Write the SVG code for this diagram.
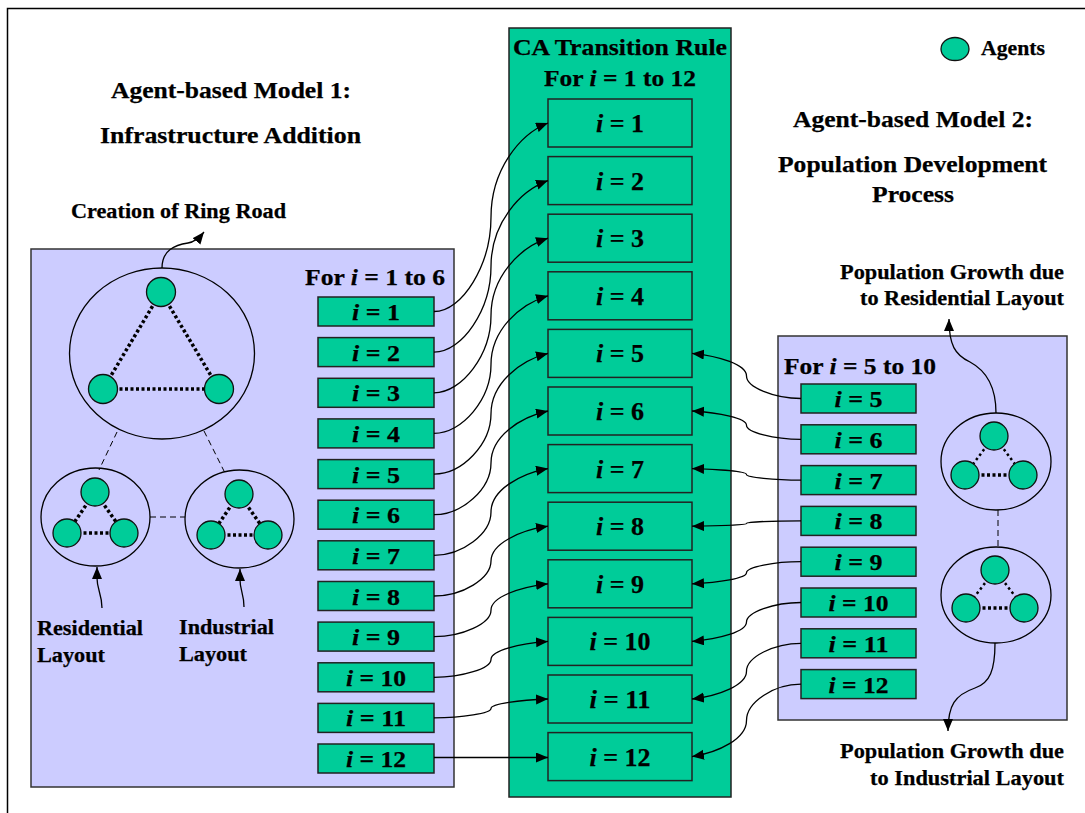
<svg xmlns="http://www.w3.org/2000/svg" width="1085" height="813" viewBox="0 0 1085 813">
<defs>
<style>
.g{fill:#00CC99;stroke:#222;stroke-width:1.5}
.p{fill:#CCCCFF;stroke:#333;stroke-width:1.5}
.t{font-family:'Liberation Serif',serif;font-weight:700;fill:#000;stroke:#000;stroke-width:0.25px}
.h{font-size:24px}
.s{font-size:21px}
.l{font-size:24px;text-anchor:middle}
.lc{font-size:25px;text-anchor:middle}
.m{text-anchor:middle}
.e{text-anchor:end}
.c{fill:none;stroke:#000;stroke-width:1.3;marker-end:url(#ah)}
.ag{fill:#00CC99;stroke:#111;stroke-width:1.3}
.dot{stroke:#000;stroke-width:3.5;stroke-dasharray:3 2.5}
.dots{stroke:#000;stroke-width:2.5;stroke-dasharray:2.5 3}
.dash{stroke:#000;stroke-width:1;stroke-dasharray:6 4}
.ell{fill:none;stroke:#000;stroke-width:1.3}
</style>
<marker id="ah" markerUnits="userSpaceOnUse" markerWidth="13" markerHeight="11" refX="12" refY="5" orient="auto">
<path d="M0,0 L12,5 L0,10 z" fill="#000"/>
</marker>
</defs>
<rect width="1085" height="813" fill="#fff"/>
<rect x="7.5" y="8.5" width="1100" height="830" fill="none" stroke="#000" stroke-width="1.5"/>

<!-- Titles -->
<g id="titles" class="t">
<text class="h m" x="231" y="98" textLength="240" lengthAdjust="spacingAndGlyphs">Agent-based Model 1:</text>
<text class="h m" x="230.5" y="143" textLength="261" lengthAdjust="spacingAndGlyphs">Infrastructure Addition</text>
<text class="h m" x="913" y="127" textLength="240" lengthAdjust="spacingAndGlyphs">Agent-based Model 2:</text>
<text class="h m" x="912.5" y="172" textLength="269" lengthAdjust="spacingAndGlyphs">Population Development</text>
<text class="h m" x="913" y="202" textLength="82" lengthAdjust="spacingAndGlyphs">Process</text>
</g>

<!-- Legend -->
<g id="legend">
<ellipse class="ag" cx="955" cy="49" rx="14" ry="11.5"/>
<text class="t" x="981" y="55" font-size="20" textLength="64" lengthAdjust="spacingAndGlyphs">Agents</text>
</g>

<!-- Left panel -->
<g id="model1">
<rect class="p" x="31" y="249" width="423" height="538"/>
<text class="t" x="305" y="285" font-size="24" textLength="140" lengthAdjust="spacingAndGlyphs">For <tspan font-style="italic">i</tspan> = 1 to 6</text>
</g>

<g id="ringroad">
<ellipse class="ell" cx="162" cy="353.5" rx="92.5" ry="85.5"/>
<line class="dot" x1="161" y1="292" x2="103" y2="389"/>
<line class="dot" x1="161" y1="292" x2="219" y2="389"/>
<line class="dot" x1="103" y1="389" x2="219" y2="389"/>
<circle class="ag" cx="161" cy="292" r="14.5"/>
<circle class="ag" cx="103" cy="389" r="14.5"/>
<circle class="ag" cx="219" cy="389" r="14.5"/>
</g>

<g id="residential">
<ellipse class="ell" cx="95.5" cy="517" rx="54.5" ry="49"/>
<line class="dot" x1="95" y1="492" x2="67" y2="533"/>
<line class="dot" x1="95" y1="492" x2="124" y2="533"/>
<line class="dot" x1="67" y1="533" x2="124" y2="533"/>
<circle class="ag" cx="95" cy="492" r="14"/>
<circle class="ag" cx="67" cy="533" r="14"/>
<circle class="ag" cx="124" cy="533" r="14"/>
<text class="t s" x="37" y="635" textLength="106" lengthAdjust="spacingAndGlyphs">Residential</text>
<text class="t s" x="37" y="662" textLength="68" lengthAdjust="spacingAndGlyphs">Layout</text>
</g>

<g id="industrial">
<ellipse class="ell" cx="239.5" cy="519" rx="54.5" ry="49"/>
<line class="dot" x1="239" y1="494" x2="211" y2="535"/>
<line class="dot" x1="239" y1="494" x2="268" y2="535"/>
<line class="dot" x1="211" y1="535" x2="268" y2="535"/>
<circle class="ag" cx="239" cy="494" r="14"/>
<circle class="ag" cx="211" cy="535" r="14"/>
<circle class="ag" cx="268" cy="535" r="14"/>
<text class="t s" x="179" y="634" textLength="95" lengthAdjust="spacingAndGlyphs">Industrial</text>
<text class="t s" x="179" y="661" textLength="68" lengthAdjust="spacingAndGlyphs">Layout</text>
</g>

<g id="ringlabel">
<text class="t s" x="71" y="218" textLength="215" lengthAdjust="spacingAndGlyphs">Creation of Ring Road</text>
</g>

<g id="leftboxes" class="t">
<rect class="g" x="318" y="297" width="116" height="29"/>
<text class="l" x="376" y="320" textLength="48" lengthAdjust="spacingAndGlyphs"><tspan font-style="italic">i</tspan> = 1</text>
<rect class="g" x="318" y="337.6" width="116" height="29"/>
<text class="l" x="376" y="360.6" textLength="48" lengthAdjust="spacingAndGlyphs"><tspan font-style="italic">i</tspan> = 2</text>
<rect class="g" x="318" y="378.3" width="116" height="29"/>
<text class="l" x="376" y="401.3" textLength="48" lengthAdjust="spacingAndGlyphs"><tspan font-style="italic">i</tspan> = 3</text>
<rect class="g" x="318" y="418.9" width="116" height="29"/>
<text class="l" x="376" y="441.9" textLength="48" lengthAdjust="spacingAndGlyphs"><tspan font-style="italic">i</tspan> = 4</text>
<rect class="g" x="318" y="459.6" width="116" height="29"/>
<text class="l" x="376" y="482.6" textLength="48" lengthAdjust="spacingAndGlyphs"><tspan font-style="italic">i</tspan> = 5</text>
<rect class="g" x="318" y="500.2" width="116" height="29"/>
<text class="l" x="376" y="523.2" textLength="48" lengthAdjust="spacingAndGlyphs"><tspan font-style="italic">i</tspan> = 6</text>
<rect class="g" x="318" y="540.8" width="116" height="29"/>
<text class="l" x="376" y="563.8" textLength="48" lengthAdjust="spacingAndGlyphs"><tspan font-style="italic">i</tspan> = 7</text>
<rect class="g" x="318" y="581.5" width="116" height="29"/>
<text class="l" x="376" y="604.5" textLength="48" lengthAdjust="spacingAndGlyphs"><tspan font-style="italic">i</tspan> = 8</text>
<rect class="g" x="318" y="622.1" width="116" height="29"/>
<text class="l" x="376" y="645.1" textLength="48" lengthAdjust="spacingAndGlyphs"><tspan font-style="italic">i</tspan> = 9</text>
<rect class="g" x="318" y="662.8" width="116" height="29"/>
<text class="l" x="376" y="685.8" textLength="60" lengthAdjust="spacingAndGlyphs"><tspan font-style="italic">i</tspan> = 10</text>
<rect class="g" x="318" y="703.4" width="116" height="29"/>
<text class="l" x="376" y="726.4" textLength="60" lengthAdjust="spacingAndGlyphs"><tspan font-style="italic">i</tspan> = 11</text>
<rect class="g" x="318" y="744" width="116" height="29"/>
<text class="l" x="376" y="767" textLength="60" lengthAdjust="spacingAndGlyphs"><tspan font-style="italic">i</tspan> = 12</text>
</g>

<!-- Central column -->
<g id="catransition" class="t">
<rect class="g" x="509" y="28" width="222" height="769"/>
<text class="h m" x="620" y="55" textLength="214" lengthAdjust="spacingAndGlyphs">CA Transition Rule</text>
<text class="h m" x="620" y="86" textLength="152" lengthAdjust="spacingAndGlyphs">For <tspan font-style="italic">i</tspan> = 1 to 12</text>
<rect class="g" x="548" y="99" width="144" height="48"/>
<text class="lc" x="620" y="132" textLength="48" lengthAdjust="spacingAndGlyphs"><tspan font-style="italic">i</tspan> = 1</text>
<rect class="g" x="548" y="156.6" width="144" height="48"/>
<text class="lc" x="620" y="189.6" textLength="48" lengthAdjust="spacingAndGlyphs"><tspan font-style="italic">i</tspan> = 2</text>
<rect class="g" x="548" y="214.2" width="144" height="48"/>
<text class="lc" x="620" y="247.2" textLength="48" lengthAdjust="spacingAndGlyphs"><tspan font-style="italic">i</tspan> = 3</text>
<rect class="g" x="548" y="271.8" width="144" height="48"/>
<text class="lc" x="620" y="304.8" textLength="48" lengthAdjust="spacingAndGlyphs"><tspan font-style="italic">i</tspan> = 4</text>
<rect class="g" x="548" y="329.4" width="144" height="48"/>
<text class="lc" x="620" y="362.4" textLength="48" lengthAdjust="spacingAndGlyphs"><tspan font-style="italic">i</tspan> = 5</text>
<rect class="g" x="548" y="387" width="144" height="48"/>
<text class="lc" x="620" y="420" textLength="48" lengthAdjust="spacingAndGlyphs"><tspan font-style="italic">i</tspan> = 6</text>
<rect class="g" x="548" y="444.6" width="144" height="48"/>
<text class="lc" x="620" y="477.6" textLength="48" lengthAdjust="spacingAndGlyphs"><tspan font-style="italic">i</tspan> = 7</text>
<rect class="g" x="548" y="502.2" width="144" height="48"/>
<text class="lc" x="620" y="535.2" textLength="48" lengthAdjust="spacingAndGlyphs"><tspan font-style="italic">i</tspan> = 8</text>
<rect class="g" x="548" y="559.8" width="144" height="48"/>
<text class="lc" x="620" y="592.8" textLength="48" lengthAdjust="spacingAndGlyphs"><tspan font-style="italic">i</tspan> = 9</text>
<rect class="g" x="548" y="617.4" width="144" height="48"/>
<text class="lc" x="620" y="650.4" textLength="61" lengthAdjust="spacingAndGlyphs"><tspan font-style="italic">i</tspan> = 10</text>
<rect class="g" x="548" y="675" width="144" height="48"/>
<text class="lc" x="620" y="708" textLength="61" lengthAdjust="spacingAndGlyphs"><tspan font-style="italic">i</tspan> = 11</text>
<rect class="g" x="548" y="732.6" width="144" height="48"/>
<text class="lc" x="620" y="765.6" textLength="61" lengthAdjust="spacingAndGlyphs"><tspan font-style="italic">i</tspan> = 12</text>
</g>

<!-- Right panel -->
<g id="model2">
<rect class="p" x="778" y="336" width="289" height="384"/>
<text class="t" x="784" y="374" font-size="24" textLength="152" lengthAdjust="spacingAndGlyphs">For <tspan font-style="italic">i</tspan> = 5 to 10</text>
</g>

<g id="popres">
<ellipse class="ell" cx="996" cy="461.5" rx="55" ry="48.5"/>
<line class="dots" x1="994" y1="436" x2="965" y2="475"/>
<line class="dots" x1="994" y1="436" x2="1023" y2="475"/>
<line class="dot" x1="965" y1="475" x2="1023" y2="475"/>
<circle class="ag" cx="994" cy="436" r="14"/>
<circle class="ag" cx="965" cy="475" r="14"/>
<circle class="ag" cx="1023" cy="475" r="14"/>
<text class="t s e" x="1064" y="279" textLength="224" lengthAdjust="spacingAndGlyphs">Population Growth due</text>
<text class="t s e" x="1064" y="305" textLength="204" lengthAdjust="spacingAndGlyphs">to Residential Layout</text>
</g>

<g id="popind">
<ellipse class="ell" cx="996" cy="595" rx="55" ry="48"/>
<line class="dots" x1="995" y1="570" x2="966" y2="608"/>
<line class="dots" x1="995" y1="570" x2="1024" y2="608"/>
<line class="dot" x1="966" y1="608" x2="1024" y2="608"/>
<circle class="ag" cx="995" cy="570" r="14"/>
<circle class="ag" cx="966" cy="608" r="14"/>
<circle class="ag" cx="1024" cy="608" r="14"/>
<text class="t s e" x="1064" y="758" textLength="224" lengthAdjust="spacingAndGlyphs">Population Growth due</text>
<text class="t s e" x="1064" y="785" textLength="194" lengthAdjust="spacingAndGlyphs">to Industrial Layout</text>
</g>

<g id="rightboxes" class="t">
<rect class="g" x="801" y="384" width="115" height="29"/>
<text class="l" x="858.5" y="407" textLength="48" lengthAdjust="spacingAndGlyphs"><tspan font-style="italic">i</tspan> = 5</text>
<rect class="g" x="801" y="424.8" width="115" height="29"/>
<text class="l" x="858.5" y="447.8" textLength="48" lengthAdjust="spacingAndGlyphs"><tspan font-style="italic">i</tspan> = 6</text>
<rect class="g" x="801" y="465.6" width="115" height="29"/>
<text class="l" x="858.5" y="488.6" textLength="48" lengthAdjust="spacingAndGlyphs"><tspan font-style="italic">i</tspan> = 7</text>
<rect class="g" x="801" y="506.4" width="115" height="29"/>
<text class="l" x="858.5" y="529.4" textLength="48" lengthAdjust="spacingAndGlyphs"><tspan font-style="italic">i</tspan> = 8</text>
<rect class="g" x="801" y="547.2" width="115" height="29"/>
<text class="l" x="858.5" y="570.2" textLength="48" lengthAdjust="spacingAndGlyphs"><tspan font-style="italic">i</tspan> = 9</text>
<rect class="g" x="801" y="588" width="115" height="29"/>
<text class="l" x="858.5" y="611" textLength="60" lengthAdjust="spacingAndGlyphs"><tspan font-style="italic">i</tspan> = 10</text>
<rect class="g" x="801" y="628.8" width="115" height="29"/>
<text class="l" x="858.5" y="651.8" textLength="60" lengthAdjust="spacingAndGlyphs"><tspan font-style="italic">i</tspan> = 11</text>
<rect class="g" x="801" y="669.6" width="115" height="29"/>
<text class="l" x="858.5" y="692.6" textLength="60" lengthAdjust="spacingAndGlyphs"><tspan font-style="italic">i</tspan> = 12</text>
</g>

<!-- Connectors -->
<g id="connectors">
<line class="dash" x1="117" y1="432" x2="99" y2="470"/>
<line class="dash" x1="204" y1="431" x2="224" y2="471"/>
<line class="dash" x1="150" y1="517" x2="185" y2="517"/>
<line class="dash" x1="998" y1="510" x2="998" y2="547"/>
<path class="c" d="M162 268 C162 250 175 245 188 243 C195 242 200 237 204 232"/>
<path class="c" d="M102 608 C102 594 97 590 97 578 L97 567"/>
<path class="c" d="M244 607 C244 594 240 590 240 580 L240 569"/>
<path class="c" d="M996 413 C996 385 985 370 970 362 C955 355 949 345 949 319"/>
<path class="c" d="M995 643 C995 670 990 683 975 688 C955 695 948 705 948 731"/>

<path class="c" d="M434 311.5 C462.5 311.5 491 264.4 491 217.3 C491 170.1 519.5 134.3 548 123"/>
<path class="c" d="M434 352.1 C462.5 352.1 491 309.2 491 266.4 C491 223.5 519.5 190.9 548 180.6"/>
<path class="c" d="M434 392.8 C462.5 392.8 491 354.2 491 315.5 C491 276.9 519.5 247.5 548 238.2"/>
<path class="c" d="M434 433.4 C462.5 433.4 491 399 491 364.6 C491 330.2 519.5 304.1 548 295.8"/>
<path class="c" d="M434 474.1 C462.5 474.1 491 443.9 491 413.8 C491 383.6 519.5 360.6 548 353.4"/>
<path class="c" d="M434 514.7 C462.5 514.7 491 488.8 491 462.9 C491 436.9 519.5 417.2 548 411"/>
<path class="c" d="M434 555.3 C462.5 555.3 491 533.6 491 512 C491 490.3 519.5 473.8 548 468.6"/>
<path class="c" d="M434 596 C462.5 596 491 578.6 491 561.1 C491 543.7 519.5 530.4 548 526.2"/>
<path class="c" d="M434 636.6 C462.5 636.6 491 623.4 491 610.2 C491 597 519.5 587 548 583.8"/>
<path class="c" d="M434 677.3 C462.5 677.3 491 668.3 491 659.4 C491 650.4 519.5 643.6 548 641.4"/>
<path class="c" d="M434 717.9 C462.5 717.9 491 713.2 491 708.5 C491 703.7 519.5 700.1 548 699"/>
<path class="c" d="M434 757.5 L548 757.5"/>

<path class="c" d="M801 398.5 C773.8 398.5 746.5 387.2 746.5 376 C746.5 364.7 719.3 356.1 692 353.4"/>
<path class="c" d="M801 439.3 C773.8 439.3 746.5 432.2 746.5 425.2 C746.5 418.1 719.3 412.7 692 411"/>
<path class="c" d="M801 480.1 C773.8 480.1 746.5 477.2 746.5 474.4 C746.5 471.5 719.3 469.3 692 468.6"/>
<path class="c" d="M801 520.9 C773.8 520.9 746.5 522.2 746.5 523.6 C746.5 524.9 719.3 525.9 692 526.2"/>
<path class="c" d="M801 561.7 C773.8 561.7 746.5 567.2 746.5 572.8 C746.5 578.3 719.3 582.5 692 583.8"/>
<path class="c" d="M801 602.5 C773.8 602.5 746.5 612.2 746.5 622 C746.5 631.7 719.3 639.1 692 641.4"/>
<path class="c" d="M801 643.3 C773.8 643.3 746.5 657.2 746.5 671.2 C746.5 685.1 719.3 695.7 692 699"/>
<path class="c" d="M801 684.1 C773.8 684.1 746.5 702.2 746.5 720.4 C746.5 738.5 719.3 752.2 692 756.6"/>
</g>
</svg>
